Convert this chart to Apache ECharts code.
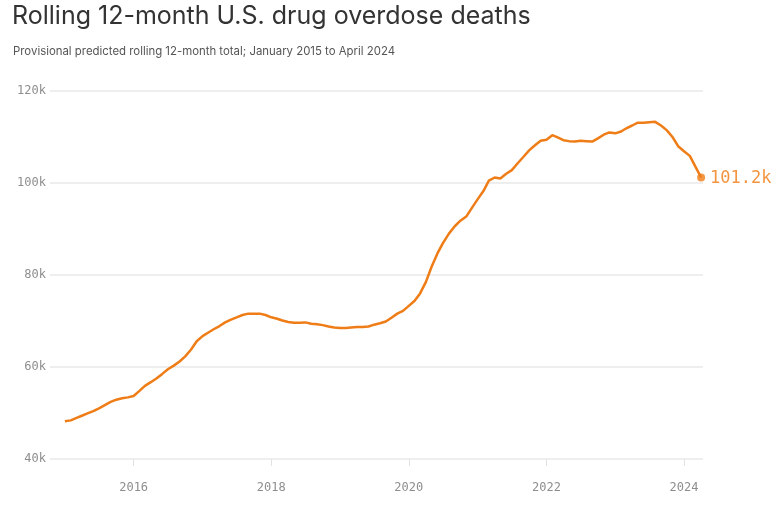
<!DOCTYPE html>
<html>
<head>
<meta charset="utf-8">
<script src="https://cdn.jsdelivr.net/npm/echarts@6/dist/echarts.min.js"></script>
<style>
  html, body { margin: 0; padding: 0; background: #fff; }
  #chart { width: 782px; height: 507px; }
</style>
</head>
<body>
<div id="chart"></div>
<script>
// Months: January 2015 .. April 2024 (rolling 12-month totals, thousands)
const startYear = 2015;
const startMonth = 1;
const deathsK = [
  48.2, 48.4, 48.9, 49.4, 49.9, 50.4, 51.0, 51.7, 52.4, 52.9, 53.2, 53.4,
  53.7, 54.8, 55.9, 56.7, 57.5, 58.5, 59.5, 60.3, 61.2, 62.3, 63.8, 65.6,
  66.7, 67.5, 68.2, 68.9, 69.7, 70.3, 70.8, 71.3, 71.6, 71.6, 71.6, 71.3,
  70.8, 70.5, 70.1, 69.8, 69.6, 69.6, 69.7, 69.4, 69.3, 69.1, 68.8, 68.6,
  68.5, 68.5, 68.6, 68.7, 68.7, 68.8, 69.2, 69.5, 69.9, 70.7, 71.6, 72.2,
  73.3, 74.4, 76.0, 78.5, 81.8, 84.7, 87.0, 89.0, 90.6, 91.8, 92.7, 94.6,
  96.5, 98.3, 100.5, 101.2, 101.0, 102.0, 102.8, 104.3, 105.7, 107.1, 108.2, 109.2,
  109.4, 110.4, 109.9, 109.3, 109.1, 109.0, 109.2, 109.1, 109.0, 109.7, 110.5, 111.0,
  110.8, 111.2, 111.9, 112.5, 113.1, 113.1, 113.2, 113.3, 112.5, 111.5, 110.0, 108.0,
  106.9, 105.9, 103.6, 101.2
];
const yTicks = [40000, 60000, 80000, 100000, 120000];
const xTickYears = [2016, 2018, 2020, 2022, 2024];

const titleText = 'Rolling 12-month U.S. drug overdose deaths';
const subtitleText = 'Provisional predicted rolling 12-month total; January 2015 to April 2024';

const lineColor = '#ef7d17';

const seriesData = deathsK.map((v, i) => {
  const d = new Date(startYear, startMonth - 1 + i, 1);
  return [d.getTime(), v * 1000];
});
const last = seriesData[seriesData.length - 1];
const xTickValues = xTickYears.map(y => new Date(y, 0, 1).getTime());

const chart = echarts.init(document.getElementById('chart'), null, { renderer: 'canvas' });
chart.setOption({
  animation: false,
  backgroundColor: '#fff',
  title: [
    {
      text: titleText,
      left: 12, top: 4, padding: 0,
      textStyle: { fontFamily: 'Inter', fontSize: 25, fontWeight: 'normal', color: '#333' }
    },
    {
      text: subtitleText,
      left: 13, top: 46, padding: 0,
      textStyle: { fontFamily: 'Inter', fontSize: 11.4, fontWeight: 'normal', color: '#555' }
    }
  ],
  grid: { left: 50, right: 79, top: 91, bottom: 48, containLabel: false },
  xAxis: {
    type: 'value',
    min: new Date(2014, 9, 14).getTime(),
    max: new Date(2024, 3, 11).getTime(),
    axisLine: { show: false },
    splitLine: { show: false },
    axisTick: {
      show: true, length: 7, customValues: xTickValues,
      lineStyle: { color: '#e2e2e2', width: 1 }
    },
    axisLabel: {
      customValues: xTickValues,
      margin: 23,
      fontFamily: 'DejaVu Sans Mono', fontSize: 12, color: '#8e8e8e',
      formatter: v => String(new Date(v).getFullYear())
    }
  },
  yAxis: {
    type: 'value',
    min: 40000, max: 120000, interval: 20000,
    axisLine: { show: false },
    axisTick: { show: false },
    splitLine: { show: true, lineStyle: { color: '#eeeeee', width: 2 } },
    axisLabel: {
      margin: 4,
      fontFamily: 'DejaVu Sans Mono', fontSize: 12, color: '#8e8e8e',
      formatter: v => (v / 1000) + 'k'
    }
  },
  series: [
    {
      type: 'line',
      data: seriesData,
      showSymbol: false,
      smooth: false,
      lineStyle: { color: lineColor, width: 2.5 },
      itemStyle: { color: lineColor },
      z: 3
    },
    {
      type: 'scatter',
      data: [last],
      symbolSize: 8,
      itemStyle: { color: lineColor },
      label: {
        show: true, position: 'right', distance: 5, offset: [0, 1],
        fontFamily: 'DejaVu Sans Mono', fontSize: 17, fontWeight: 500, color: '#f07a10',
        formatter: p => (p.value[1] / 1000).toFixed(1) + 'k'
      },
      z: 4
    }
  ]
});
</script>
</body>
</html>
